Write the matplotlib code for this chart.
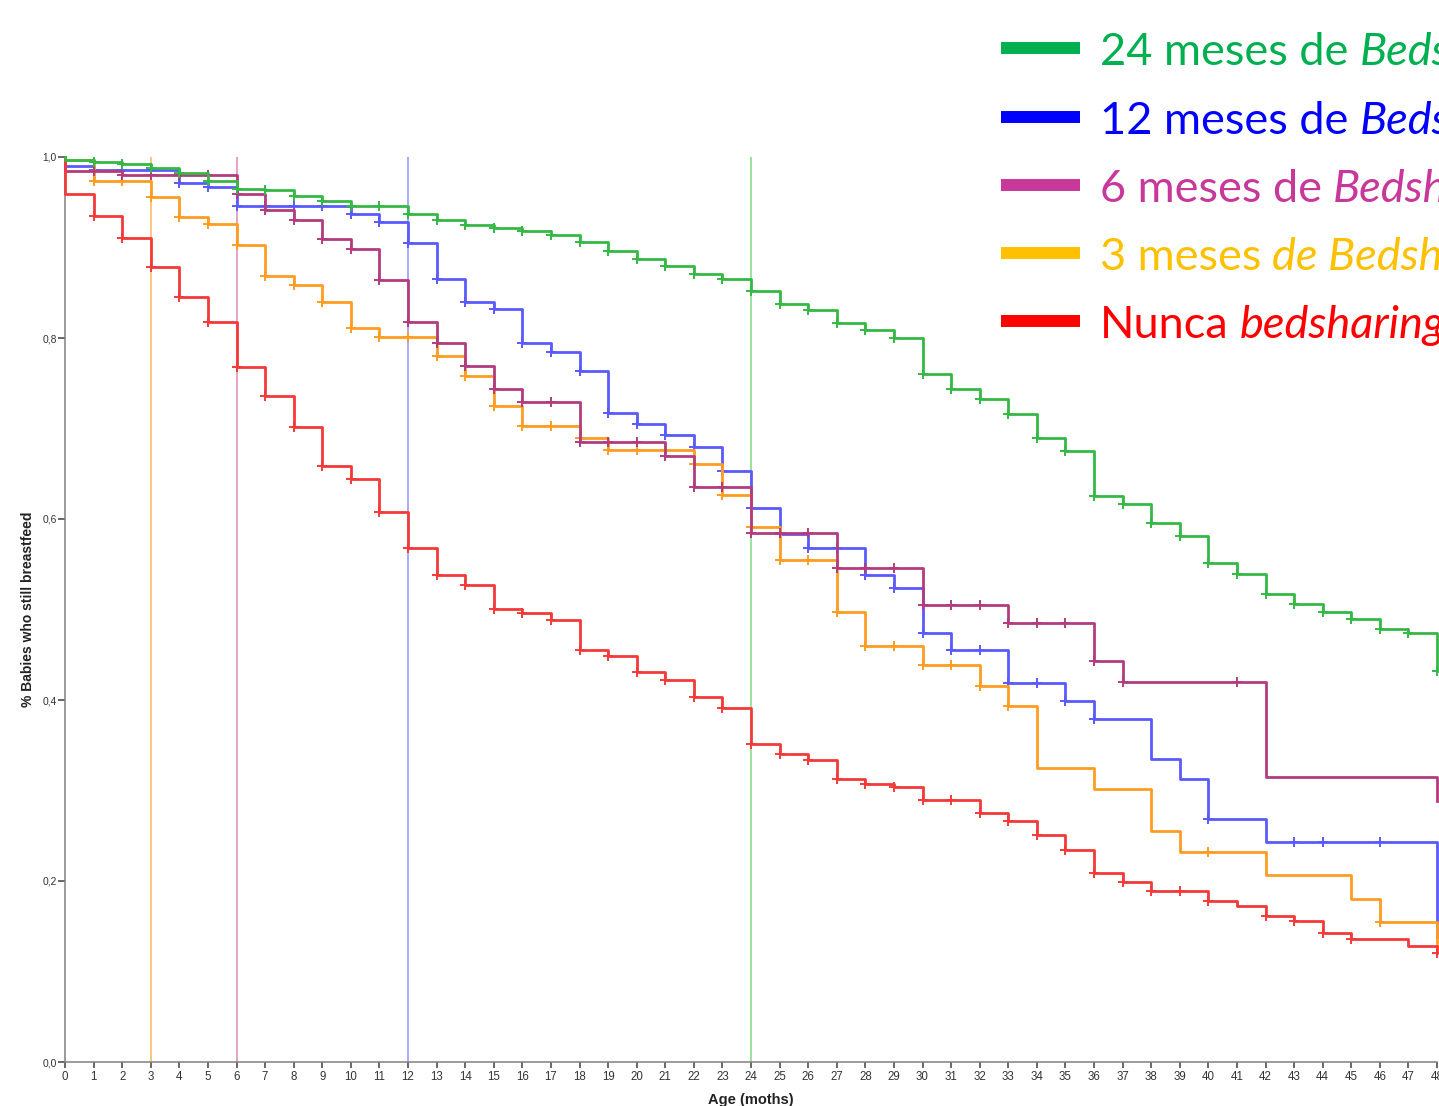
import matplotlib
matplotlib.use('Agg')
import matplotlib.pyplot as plt
from matplotlib.lines import Line2D

# ---------------- data ----------------
months = list(range(49))
x_tick_labels = [str(m) for m in months]
y_ticks = [0.0, 0.2, 0.4, 0.6, 0.8, 1.0]
y_tick_labels = ['0,0', '0,2', '0,4', '0,6', '0,8', '1,0']

# survival value on [k, k+1) for k = 0..47, last entry = value at 48
surv_24m = [0.997, 0.994, 0.992, 0.988, 0.982, 0.973, 0.965, 0.964, 0.957, 0.951,
            0.946, 0.946, 0.937, 0.930, 0.925, 0.922, 0.918, 0.914, 0.906, 0.896,
            0.887, 0.880, 0.871, 0.865, 0.852, 0.838, 0.831, 0.817, 0.809, 0.800,
            0.760, 0.744, 0.733, 0.716, 0.690, 0.675, 0.625, 0.617, 0.596, 0.581,
            0.551, 0.539, 0.517, 0.506, 0.497, 0.489, 0.479, 0.474, 0.432]
surv_12m = [0.990, 0.986, 0.986, 0.986, 0.971, 0.967, 0.946, 0.946, 0.946, 0.946,
            0.937, 0.928, 0.905, 0.865, 0.840, 0.832, 0.794, 0.785, 0.764, 0.717,
            0.705, 0.693, 0.680, 0.653, 0.612, 0.583, 0.568, 0.568, 0.538, 0.524,
            0.474, 0.455, 0.455, 0.419, 0.419, 0.399, 0.379, 0.379, 0.335, 0.313,
            0.269, 0.269, 0.243, 0.243, 0.243, 0.243, 0.243, 0.243, 0.138]
surv_6m = [0.985, 0.985, 0.980, 0.980, 0.980, 0.980, 0.959, 0.941, 0.930, 0.909,
           0.898, 0.864, 0.818, 0.794, 0.769, 0.744, 0.729, 0.729, 0.685, 0.685,
           0.685, 0.670, 0.635, 0.635, 0.585, 0.585, 0.585, 0.546, 0.546, 0.546,
           0.505, 0.505, 0.505, 0.485, 0.485, 0.485, 0.443, 0.420, 0.420, 0.420,
           0.420, 0.420, 0.315, 0.315, 0.315, 0.315, 0.315, 0.315, 0.288]
surv_3m = [0.997, 0.973, 0.973, 0.956, 0.934, 0.926, 0.903, 0.869, 0.859, 0.840,
           0.811, 0.801, 0.801, 0.780, 0.758, 0.725, 0.703, 0.703, 0.690, 0.676,
           0.676, 0.676, 0.661, 0.627, 0.591, 0.555, 0.555, 0.497, 0.460, 0.460,
           0.439, 0.439, 0.415, 0.393, 0.325, 0.325, 0.302, 0.302, 0.255, 0.232,
           0.232, 0.232, 0.207, 0.207, 0.207, 0.180, 0.155, 0.155, 0.126]
surv_never = [0.959, 0.935, 0.910, 0.878, 0.845, 0.818, 0.768, 0.736, 0.702, 0.659,
              0.644, 0.608, 0.568, 0.538, 0.527, 0.501, 0.496, 0.488, 0.455, 0.449,
              0.431, 0.422, 0.403, 0.391, 0.351, 0.340, 0.334, 0.313, 0.307, 0.304,
              0.290, 0.290, 0.275, 0.266, 0.251, 0.234, 0.209, 0.199, 0.189, 0.189,
              0.178, 0.172, 0.161, 0.156, 0.143, 0.136, 0.136, 0.128, 0.120]

# censoring marks (months)
cens_24m = list(range(1, 49))
cens_12m = list(range(1, 37)) + [40, 43, 44, 46]
cens_6m = list(range(1, 38)) + [41]
cens_3m = list(range(1, 34)) + [40, 46]
cens_never = list(range(1, 41)) + [42, 43, 44, 45, 48]

ref_months = [3, 6, 12, 24]

legend_parts = [("24 meses de ", "Bedsharing"),
                ("12 meses de ", "Bedsharing"),
                ("6 meses de ", "Bedsharing"),
                ("3 meses ", "de Bedsharing"),
                ("Nunca ", "bedsharing")]

# ---------------- style ----------------
W, H = 1439, 1106
fig = plt.figure(figsize=(W / 100, H / 100), dpi=100)
ax = fig.add_axes([65 / W, 1 - 1062 / H, (1437 - 65) / W, (1062 - 157) / H])

curve_colors = ['#35b845', '#5a5aff', '#b23c7e', '#ff9d22', '#f23a3a']
curve_z = [6, 3, 4, 3.5, 5]
ref_colors = ['#ffc67a', '#e3a3cc', '#a8a8ff', '#9ee09e']
legend_colors = ['#00b050', '#0000ff', '#c8379a', '#ffc000', '#ff0000']

for xm, c in zip(ref_months, ref_colors):
    ax.axvline(xm, color=c, lw=1.4, zorder=1)

series = [(surv_24m, cens_24m), (surv_12m, cens_12m), (surv_6m, cens_6m),
          (surv_3m, cens_3m), (surv_never, cens_never)]
for (vals, cens), c, z in zip(series, curve_colors, curve_z):
    xs = [0] + months
    ys = [1.0] + vals
    ax.step(xs, ys, where='post', color=c, lw=2.0, clip_on=False, zorder=z)
    ax.plot(cens, [vals[t] for t in cens], linestyle='none', marker='+',
            ms=7, mew=1.4, color=c, clip_on=False, zorder=z)

ax.set_xlim(0, 48)
ax.set_ylim(0, 1.0)
ax.set_xticks(months)
ax.set_xticklabels(x_tick_labels, fontsize=8.3, family='Liberation Sans', color='#333333')
ax.set_yticks(y_ticks)
ax.set_yticklabels(y_tick_labels, fontsize=7.4, family='Liberation Sans', color='#333333')
ax.tick_params(axis='x', direction='out', length=4.5, width=1.1, color='#404040', pad=2)
ax.tick_params(axis='y', direction='out', length=5, width=1.1, color='#404040', pad=1)
for s in ['top', 'right']:
    ax.spines[s].set_visible(False)
for s in ['left', 'bottom']:
    ax.spines[s].set_color('#808080')
    ax.spines[s].set_linewidth(1.1)

ax.set_xlabel('Age (moths)', fontsize=10.5, fontweight='bold', family='Liberation Sans',
              color='#222222')
ax.xaxis.set_label_coords(0.5, -0.034)
ax.set_ylabel('% Babies who still breastfeed', fontsize=10, fontweight='bold',
              family='Liberation Sans', color='#222222')
ax.yaxis.set_label_coords(-0.022, 0.5)

# ---------------- legend ----------------
renderer = fig.canvas.get_renderer()
row_y = [48, 117, 185, 253, 321]
for (p1, p2), c, yl in zip(legend_parts, legend_colors, row_y):
    fig.add_artist(Line2D([1001 / W, 1080 / W], [1 - yl / H, 1 - yl / H],
                          color=c, lw=8.6, solid_capstyle='butt'))
    yb = 1 - (yl + 17) / H
    t1 = fig.text(1100 / W, yb, p1.rstrip(), fontsize=32.5, family='Lato', color=c,
                  va='baseline', ha='left')
    bb = t1.get_window_extent(renderer=renderer)
    fig.text((bb.x1 + 11) / W, yb, p2, fontsize=32.5, family='Lato', style='italic',
             color=c, va='baseline', ha='left')

fig.savefig('out.png', dpi=100)
